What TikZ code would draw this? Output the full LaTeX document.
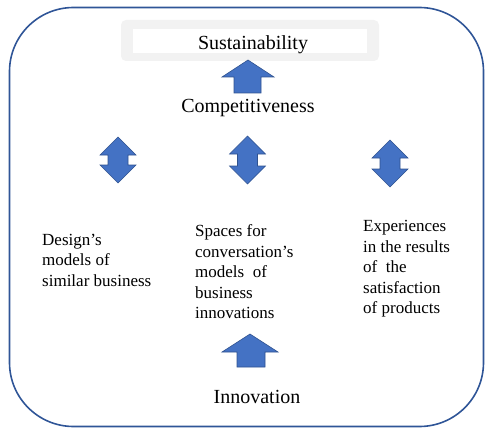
\documentclass[tikz,border=0pt]{standalone}
\usepackage{fontspec}
\setmainfont{Liberation Serif}
\definecolor{frameblue}{HTML}{2F5597}
\definecolor{arrowfill}{HTML}{4472C4}
\definecolor{arrowline}{HTML}{2F528F}
\definecolor{softgray}{HTML}{F2F2F2}
\begin{document}
\begin{tikzpicture}[x=1pt,y=-1pt,
  blockarrow/.style={fill=arrowfill,draw=arrowline,line width=0.6pt,line join=miter},
  biglabel/.style={inner sep=0pt,font=\fontsize{20}{24}\selectfont,anchor=base},
  sidetext/.style={inner sep=0pt,align=left,anchor=north west,font=\fontsize{17}{20.5}\selectfont}]
\useasboundingbox (0,0) rectangle (485,428);
% outer frame
\draw[frameblue,line width=1.6pt,rounded corners=64pt] (9.5,7.5) rectangle (483.5,426.5);
% sustainability box
\fill[softgray,rounded corners=5pt] (121,20) rectangle (379,61);
\fill[white] (133,29) rectangle (367,53);
\node[biglabel] (sus) at (253,50) {Sustainability};
% arrow to sustainability
\draw[blockarrow] (248,60) -- (274,77) -- (261,77) -- (261,93) -- (234,93) -- (234,77) -- (222,77) -- cycle;
\node[biglabel] (comp) at (248,113) {Competitiveness};
% double arrows
\foreach \cx/\t/\b [count=\i] in {118/137/183, 247.5/136/184, 390/140/187}{
  \draw[blockarrow] (\cx,\t) -- (\cx+18,\t+18) -- (\cx+10,\t+18) -- (\cx+10,\b-18) -- (\cx+18,\b-18)
     -- (\cx,\b) -- (\cx-18,\b-18) -- (\cx-10,\b-18) -- (\cx-10,\t+18) -- (\cx-18,\t+18) -- cycle;
}
% texts
\node[sidetext] (t1) at (42,233.5) {Design’s\\models of\\similar business};
\node[sidetext] (t2) at (195,224.5) {Spaces for\\conversation’s\\models~ of\\business\\innovations};
\node[sidetext] (t3) at (363,220.5) {Experiences\\in the results\\of~ the\\satisfaction\\of products};
% innovation arrow
\draw[blockarrow] (250,334) -- (278,352) -- (265,352) -- (265,367) -- (237,367) -- (237,352) -- (222,352) -- cycle;
\node[biglabel] (inno) at (257,403) {Innovation};
\end{tikzpicture}
\end{document}
